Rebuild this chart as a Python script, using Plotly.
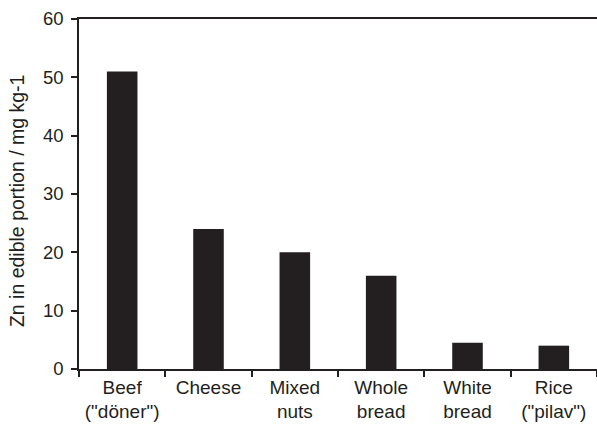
import plotly.graph_objects as go

categories = ['Beef<br>("döner")', 'Cheese', 'Mixed<br>nuts', 'Whole<br>bread', 'White<br>bread', 'Rice<br>("pilav")']
zn_values = [51, 24, 20, 16, 4.5, 4]
y_ticks = [0, 10, 20, 30, 40, 50, 60]
y_title = 'Zn in edible portion / mg kg-1'

ink = '#231f20'
fig = go.Figure(go.Bar(x=categories, y=zn_values, marker=dict(color=ink, line=dict(width=0))))

fig.update_layout(
    width=597, height=425,
    margin=dict(l=79, r=0, t=19, b=56, autoexpand=False),
    paper_bgcolor='white', plot_bgcolor='white',
    bargap=0.646,
    showlegend=False,
    font=dict(family='Liberation Sans, Arial, sans-serif', color=ink, size=18),
)
fig.update_xaxes(
    showline=True, linecolor=ink, linewidth=1.6, mirror=True,
    ticks='outside', ticklen=6, tickcolor=ink, tickwidth=1.5,
    tickson='boundaries', showgrid=False, automargin=False,
    tickfont=dict(size=19),
    range=[-0.5, 5.5],
)
fig.update_yaxes(
    range=[0, 60], tickvals=y_ticks,
    showline=True, linecolor=ink, linewidth=1.6,
    ticks='outside', ticklen=6, tickcolor=ink, tickwidth=1.5,
    showgrid=False, zeroline=False, automargin=False,
    tickfont=dict(size=18.5), ticklabelstandoff=4,
)
fig.add_annotation(
    text=y_title, textangle=-90, showarrow=False,
    xref='paper', yref='paper', x=-0.1195, y=0.48,
    xanchor='center', yanchor='middle',
    font=dict(size=19.5, color=ink),
)
fig.write_html('out.html', config={'displayModeBar': False},
               post_script="document.body.style.margin='0';document.body.style.overflow='hidden';")
